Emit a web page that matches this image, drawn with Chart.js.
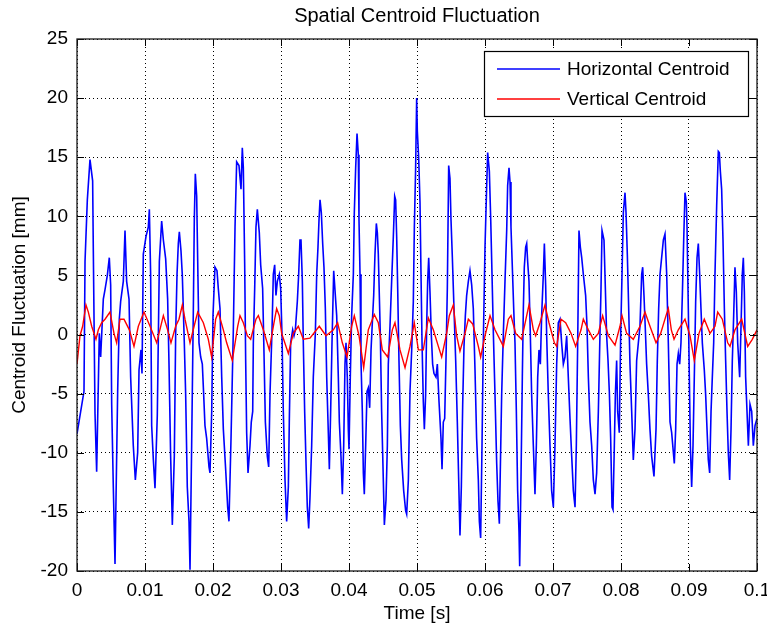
<!DOCTYPE html>
<html>
<head>
<meta charset="utf-8">
<title>Spatial Centroid Fluctuation</title>
<script src="https://cdn.jsdelivr.net/npm/chart.js@4.4.1/dist/chart.umd.min.js"></script>
<style>
  html, body { margin: 0; padding: 0; background: #ffffff; }
  #chart { display: block; }
</style>
</head>
<body>
<canvas id="chart" width="767" height="632"></canvas>
<script>
const titleText = "Spatial Centroid Fluctuation";
const xLabelText = "Time [s]";
const yLabelText = "Centroid Fluctuation [mm]";
const seriesNames = ["Horizontal Centroid", "Vertical Centroid"];

const xTicks = [0, 0.01, 0.02, 0.03, 0.04, 0.05, 0.06, 0.07, 0.08, 0.09, 0.1];
const yTicks = [-20, -15, -10, -5, 0, 5, 10, 15, 20, 25];

// horizontal centroid (time in s, value in mm)
const horizTime = [
  0, 0.00103, 0.00118, 0.00152, 0.00191, 0.0023, 0.0024, 0.00265, 0.00289, 0.00328,
  0.00348, 0.00387, 0.00412, 0.00446, 0.00475, 0.00495, 0.0051, 0.00534, 0.00559, 0.00598,
  0.00622, 0.00642, 0.00681, 0.00706, 0.0073, 0.00765, 0.00789, 0.00828, 0.00858, 0.00892,
  0.00912, 0.00941, 0.00956, 0.00975, 0.01015, 0.01049, 0.01064, 0.01083, 0.01098, 0.01123,
  0.01147, 0.01181, 0.01211, 0.01245, 0.0127, 0.01304, 0.01333, 0.01353, 0.01377, 0.01402,
  0.01431, 0.01451, 0.01471, 0.0149, 0.01505, 0.01529, 0.01549, 0.01578, 0.01598, 0.01622,
  0.01647, 0.01662, 0.01686, 0.01711, 0.01725, 0.0174, 0.0176, 0.01775, 0.01794, 0.01819,
  0.01843, 0.01863, 0.01882, 0.01907, 0.01941, 0.01956, 0.01981, 0.02, 0.02029, 0.02059,
  0.02078, 0.02103, 0.02128, 0.02152, 0.02186, 0.02216, 0.02235, 0.02265, 0.02299, 0.02324,
  0.02348, 0.02382, 0.02412, 0.02431, 0.02446, 0.02466, 0.0248, 0.02495, 0.02515, 0.02544,
  0.02563, 0.02584, 0.02593, 0.02613, 0.02632, 0.02652, 0.02681, 0.02701, 0.0273, 0.0275,
  0.0277, 0.02799, 0.02819, 0.02838, 0.02868, 0.02887, 0.02907, 0.02926, 0.02946, 0.02975,
  0.02995, 0.03015, 0.03034, 0.03059, 0.03083, 0.03108, 0.03122, 0.03142, 0.03172, 0.03191,
  0.03211, 0.0324, 0.0326, 0.03279, 0.03294, 0.03314, 0.03328, 0.03348, 0.03368, 0.03387,
  0.03407, 0.03426, 0.03451, 0.03475, 0.03505, 0.03525, 0.03544, 0.03559, 0.03574, 0.03593,
  0.03613, 0.03632, 0.03652, 0.03672, 0.03696, 0.03711, 0.0373, 0.0375, 0.03775, 0.03819,
  0.03843, 0.03858, 0.03882, 0.03902, 0.03922, 0.03941, 0.03956, 0.03975, 0.0399, 0.04,
  0.04019, 0.04039, 0.04064, 0.04078, 0.04098, 0.04118, 0.04137, 0.04147, 0.04162, 0.04176,
  0.04196, 0.04211, 0.04225, 0.04245, 0.04265, 0.04284, 0.04304, 0.04324, 0.04343, 0.04363,
  0.04382, 0.04402, 0.04417, 0.04431, 0.04446, 0.04461, 0.0448, 0.045, 0.0452, 0.04544,
  0.04564, 0.04578, 0.04603, 0.04627, 0.04652, 0.04672, 0.04686, 0.04701, 0.04716, 0.04735,
  0.04755, 0.04775, 0.04804, 0.04833, 0.04848, 0.04873, 0.04897, 0.04922, 0.04946, 0.04961,
  0.0498, 0.04995, 0.05005, 0.05025, 0.05044, 0.05059, 0.05074, 0.05093, 0.05108, 0.05127,
  0.05142, 0.05157, 0.05172, 0.05191, 0.05211, 0.0523, 0.0525, 0.05279, 0.05299, 0.05324,
  0.05353, 0.05368, 0.05387, 0.05407, 0.05426, 0.05446, 0.05466, 0.05485, 0.055, 0.0552,
  0.05544, 0.05569, 0.05593, 0.05613, 0.05632, 0.05652, 0.05672, 0.05691, 0.05711, 0.0573,
  0.05755, 0.05779, 0.05804, 0.05828, 0.05853, 0.05877, 0.05902, 0.05917, 0.05936, 0.05956,
  0.05975, 0.06, 0.06025, 0.06039, 0.06064, 0.06083, 0.06103, 0.06123, 0.06147, 0.06172,
  0.06191, 0.06211, 0.06245, 0.0627, 0.06294, 0.06319, 0.06333, 0.06353, 0.06368, 0.06382,
  0.06402, 0.06422, 0.06441, 0.06461, 0.0648, 0.065, 0.0651, 0.06529, 0.06549, 0.06564,
  0.06578, 0.06598, 0.06613, 0.06627, 0.06647, 0.06667, 0.06686, 0.06711, 0.06735, 0.06755,
  0.06775, 0.06794, 0.06814, 0.06833, 0.06858, 0.06873, 0.06892, 0.06907, 0.06931, 0.06956,
  0.0698, 0.07005, 0.07029, 0.07054, 0.07078, 0.07103, 0.07127, 0.07152, 0.07176, 0.07201,
  0.07225, 0.0725, 0.07275, 0.07299, 0.07324, 0.07343, 0.07363, 0.07382, 0.07402, 0.07422,
  0.07446, 0.0748, 0.075, 0.0752, 0.07544, 0.07569, 0.07593, 0.07618, 0.07642, 0.07667,
  0.07691, 0.07706, 0.07721, 0.0775, 0.0777, 0.07789, 0.07809, 0.07828, 0.07848, 0.07868,
  0.07882, 0.07902, 0.07917, 0.07936, 0.07951, 0.07975, 0.07995, 0.08015, 0.08034, 0.08059,
  0.08074, 0.08093, 0.08113, 0.08132, 0.08157, 0.08181, 0.08206, 0.0823, 0.08255, 0.08279,
  0.08304, 0.08319, 0.08338, 0.08358, 0.08377, 0.08402, 0.08426, 0.08451, 0.08485, 0.08515,
  0.08534, 0.08554, 0.08574, 0.08623, 0.08647, 0.08672, 0.08696, 0.08721, 0.08745, 0.08784,
  0.08804, 0.08824, 0.08843, 0.08863, 0.08882, 0.08902, 0.08922, 0.08941, 0.08961, 0.08971,
  0.0899, 0.09005, 0.0902, 0.09039, 0.09059, 0.09078, 0.09098, 0.09118, 0.09137, 0.09157,
  0.09176, 0.09196, 0.09225, 0.09245, 0.09265, 0.09284, 0.09304, 0.09324, 0.09343, 0.09363,
  0.09382, 0.09407, 0.09431, 0.09446, 0.09461, 0.0948, 0.095, 0.0952, 0.09539, 0.09559,
  0.09578, 0.09598, 0.09618, 0.09637, 0.09657, 0.09676, 0.09696, 0.09716, 0.09745, 0.09765,
  0.09784, 0.09799, 0.09814, 0.09833, 0.09853, 0.09873, 0.09897, 0.09922, 0.09946, 0.09971,
  0.1
];
const horizValue = [
  -8.4, -4.8, 6.2, 11.4, 14.8, 13, 7.1, -6.7, -11.6, 0.1,
  -1.9, 3, 3.8, 5, 6.5, 4.2, -5.9, -12.9, -19.4, -4.8,
  1.3, 2.8, 4.5, 8.8, 4.5, 3, -3.6, -9.4, -12.3, -10,
  -3, -1.3, -3.3, 6.8, 8.3, 9.1, 10.6, 5.1, -7.7, -10.6,
  -13, -6.8, 6.2, 9.6, 8, 6.4, 3, -2.5, -10.3, -16.1,
  -10.3, 0.1, 5.1, 7.7, 8.7, 7.1, 5, -0.7, -5.1, -12.9,
  -15.8, -19.9, -9.4, 2.2, 9.7, 13.6, 11.7, 6.2, -0.7, -1.9,
  -2.5, -5.1, -7.7, -8.8, -11.2, -11.7, -6.5, 1.6, 5.7, 5.4,
  3.9, 2.2, -3.6, -8, -11.4, -14.6, -15.8, -8.8, 0.4, 9.1,
  14.6, 14.3, 12.3, 15.8, 14.1, 5.9, -2, -8.3, -11.7, -9.4,
  -7.4, -6.5, -0.7, 3.9, 9.1, 10.6, 8.6, 5.9, 3.9, -1.6,
  -7.4, -10.3, -11.2, -5.1, 0.4, 5.1, 5.9, 3.3, 4.5, 5.1,
  3.9, -0.1, -6.5, -12.3, -15.8, -12.9, -7.4, -0.7, 0.4, -0.1,
  0.4, 2.8, 5.1, 8, 8, 4.5, -0.7, -6.5, -10.9, -14.6,
  -16.4, -13.8, -9.4, -3.6, 0.1, 5.1, 7.4, 9.7, 11.4, 10.3,
  7.7, 5.7, 2.2, -3.6, -8.3, -11.4, -6.5, -0.7, 5.4, 1.6,
  -3.6, -7.4, -10.3, -13.5, -9.4, -2.5, -0.7, -3.6, -8, -9.7,
  -3.6, 1.6, 5.1, 10.3, 14.1, 17, 15.2, 9.7, 5.1, -2.2,
  -6.5, -11.7, -13.5, -9.4, -4.8, -4.5, -6.2, -1.3, 1, 3.3,
  6.8, 9.4, 8.6, 6.8, 3.3, -0.1, -6.5, -11.2, -16.1, -14,
  -9.4, -2.5, 0.7, 4.5, 8.3, 11.7, 11.4, 8.3, 3.9, -2.2,
  -7.7, -10.6, -13.2, -14.9, -15.2, -12.3, -4.8, -1.3, 2.8, 9.1,
  14.1, 20, 17.2, 14.9, 11.2, 5.1, -0.7, -5.7, -8, -5.1,
  0.7, 4.5, 6.5, 3.6, -0.1, -2.5, -3.3, -3.6, -2.5, -5.7,
  -8.8, -11.4, -7.4, -7.1, -2.2, 3.9, 14.3, 13.2, 9.7, 6.5,
  2.2, -2.2, -7.4, -12.3, -17, -12.9, -5.9, -1, 1.6, 3.3,
  4.5, 5.4, 4.2, 2.2, -3, -8.8, -12.3, -15.8, -17.2, -9.4,
  -0.7, 7.4, 12.6, 15.4, 13.8, 10, 5.1, 0.1, -5.1, -10.9,
  -14.1, -16, -5.1, 0.1, 4.5, 8.8, 12.6, 14.1, 12.9, 9.1,
  5.7, 2.2, -0.7, -6.5, -13.2, -16.7, -19.6, -12.3, -3.6, 2.2,
  5.7, 7.4, 7.7, 6.2, 4.5, -0.1, -5.1, -9.4, -13.5, -9.4,
  -3.6, -1.3, -2.5, 1.6, 5.1, 7.7, 4.2, -0.1, -5.1, -9.4,
  -13.2, -14.6, -9.4, -2.5, 1, 1.3, -0.7, -2.5, -1.9, -0.1,
  -3.6, -7.1, -10.3, -13.2, -14.6, -9.4, -0.7, 8.8, 7.4, 6.5,
  5.1, 3.3, 0.7, -3.6, -7.4, -9.4, -12.3, -13.5, -11.7, -6.5,
  0.1, 3.9, 8.8, 8, 3.9, -0.1, -2.2, -4.8, -8.8, -14.6,
  -14.8, -9.4, -5.1, -2.2, -6.5, -8.3, -0.1, 5.1, 10.3, 12,
  10.3, 6.8, 2.2, -2.5, -6.5, -10.6, -8, -2.2, -0.7, 0.7,
  5.1, 5.7, 3.3, 0.4, -2.5, -5.1, -8, -10.3, -12, -8,
  -2.2, 2.2, 5.1, 8, 8.5, 5.1, -0.7, -7.4, -8.3, -10.9,
  -8, -2.5, -1.6, -2.5, -0.7, 3.3, 8, 12, 11.2, 9.1,
  2.2, -3.6, -9.4, -12.9, -9.4, -3.6, 2.8, 6.5, 7.7, 5.1,
  2.2, -0.7, -3, -5.1, -8, -10.6, -11.7, -6.5, -3.6, -0.7,
  5.1, 10.9, 15.5, 15.4, 13.8, 12.3, 8, 2.2, -2.2, -6.5,
  -10, -12.3, -8, -2.2, 1.6, 5.7, 3.6, -0.7, -3.6, 0.7,
  5.1, 6.5, 3.6, -3.6, -6.5, -9.4, -5.9, -6.5, -9.4, -7.7,
  -7.1
];

// vertical centroid (time in s, value in mm)
const vertTime = [
  0, 0.00044, 0.00083, 0.00132, 0.00167, 0.00216, 0.00279, 0.00314, 0.00363, 0.00412,
  0.00485, 0.00544, 0.00583, 0.00632, 0.00691, 0.0077, 0.00838, 0.00902, 0.00985, 0.01074,
  0.01172, 0.0127, 0.01333, 0.01382, 0.01451, 0.015, 0.01549, 0.01588, 0.01662, 0.01735,
  0.01775, 0.01858, 0.01931, 0.0198, 0.02039, 0.02078, 0.02152, 0.02201, 0.02284, 0.02363,
  0.02397, 0.02446, 0.02505, 0.02554, 0.02632, 0.02667, 0.0274, 0.02828, 0.02897, 0.02936,
  0.02975, 0.0301, 0.03108, 0.03181, 0.03255, 0.03328, 0.03426, 0.03563, 0.03662, 0.0377,
  0.03833, 0.03902, 0.03971, 0.04039, 0.04078, 0.04147, 0.04216, 0.04284, 0.04372, 0.04431,
  0.0449, 0.04569, 0.04637, 0.04676, 0.0475, 0.04824, 0.04897, 0.0496, 0.0502, 0.05093,
  0.05167, 0.0524, 0.05314, 0.05363, 0.05436, 0.05475, 0.05534, 0.05583, 0.05632, 0.05706,
  0.05755, 0.05819, 0.05902, 0.05936, 0.06, 0.06074, 0.06147, 0.06245, 0.0627, 0.06343,
  0.06382, 0.06451, 0.06539, 0.06613, 0.06647, 0.06711, 0.06745, 0.06809, 0.06882, 0.06941,
  0.0702, 0.07054, 0.07118, 0.07186, 0.07265, 0.07333, 0.07412, 0.07446, 0.0752, 0.07593,
  0.07667, 0.0773, 0.07814, 0.07912, 0.07985, 0.08015, 0.08083, 0.08181, 0.08279, 0.08353,
  0.08426, 0.08515, 0.08583, 0.08662, 0.08696, 0.0874, 0.0878, 0.08843, 0.08941, 0.09015,
  0.09078, 0.09147, 0.09225, 0.09309, 0.09382, 0.09422, 0.0949, 0.09569, 0.09603, 0.09676,
  0.09775, 0.09863, 0.09931, 0.1
];
const vertValue = [
  -2.5, -0.1, 0.7, 2.5, 1.9, 0.7, -0.4, 0.4, 1, 1.3,
  1.9, 0.1, -0.7, 1.3, 1.3, 0.4, -1, 0.7, 1.9, 0.7,
  -0.7, 1.6, 0.4, -0.7, 0.7, 1.3, 2.5, 1.3, -0.7, 1,
  1.9, 1, -0.4, -1.9, 1.3, 1.9, 0.4, -0.7, -2.2, 0.7,
  1.6, 1, -0.1, -0.4, 1.3, 1.6, 0.4, -1.3, 1, 2.2,
  1.6, 0.1, -1.6, 0.1, 0.7, -0.4, -0.3, 0.7, -0.1, 0.4,
  1, -0.7, -1.9, 0.7, 1.6, -0.1, -2.8, 0.4, 1.7, 1,
  -1.3, -1.9, 0.4, 1, -1.3, -2.8, -1, 1, -1.3, -1.3,
  1.4, 0.4, -1, -1.9, 0.1, 1.6, 2.5, -0.1, -1.4, 0.1,
  1.3, 0.9, -1, -1.9, -0.1, 1.6, 0.4, -0.7, -1, 1.3,
  1.6, 0.1, -0.4, 1.6, 2.5, 0.4, -0.1, 1, 2.5, 1,
  -0.7, -1, 1.3, 1, 0.1, -1, 0.4, 1.3, 0.4, -0.4,
  0.1, 1.6, -0.1, -0.9, 0.7, 1.6, 0.1, -0.4, 0.7, 1.9,
  0.7, -0.7, 0.1, 1.6, 2.2, 0.4, -0.4, 0.4, 1.3, -0.1,
  -2.2, 0.1, 1.3, 0.1, 0.7, 1.9, 1.3, -0.7, -1, 0.4,
  1.3, -1, -0.4, 0.4
];

const seriesColors = ["#0000ff", "#ff0000"];
const fontFamily = "Arial, 'Liberation Sans', sans-serif";

function toPoints(times, values) {
  return times.map((t, i) => ({ x: t, y: values[i] }));
}

function formatTime(value) {
  return value === 0 ? "0" : String(Number(value.toFixed(2)));
}

// MATLAB style box, inward ticks, legend and text
const matlabFrame = {
  id: "matlabFrame",
  afterDatasetsDraw(chart) {
    const { ctx, chartArea: area, scales } = chart;
    const xScale = scales.x;
    const yScale = scales.y;
    const tickLen = 7;

    ctx.save();
    ctx.strokeStyle = "#000000";
    ctx.lineWidth = 1;
    ctx.beginPath();
    xTicks.forEach((value) => {
      const px = Math.round(xScale.getPixelForValue(value)) + 0.5;
      ctx.moveTo(px, area.bottom);
      ctx.lineTo(px, area.bottom - tickLen);
      ctx.moveTo(px, area.top);
      ctx.lineTo(px, area.top + tickLen);
    });
    yTicks.forEach((value) => {
      const py = Math.round(yScale.getPixelForValue(value)) + 0.5;
      ctx.moveTo(area.left, py);
      ctx.lineTo(area.left + tickLen, py);
      ctx.moveTo(area.right, py);
      ctx.lineTo(area.right - tickLen, py);
    });
    ctx.stroke();

    ctx.lineWidth = 1.3;
    ctx.strokeStyle = "#1a1a1a";
    ctx.strokeRect(area.left, area.top, area.right - area.left, area.bottom - area.top);

    // legend
    const boxW = 264;
    const boxH = 65;
    const boxX = area.right - 9 - boxW;
    const boxY = area.top + 12;
    ctx.fillStyle = "#ffffff";
    ctx.fillRect(boxX, boxY, boxW, boxH);
    ctx.lineWidth = 1.2;
    ctx.strokeStyle = "#000000";
    ctx.strokeRect(boxX + 0.5, boxY + 0.5, boxW, boxH);

    ctx.font = "19px " + fontFamily;
    ctx.textAlign = "left";
    ctx.textBaseline = "middle";
    seriesNames.forEach((name, i) => {
      const rowY = boxY + 18 + i * 30;
      ctx.strokeStyle = seriesColors[i];
      ctx.lineWidth = 1.4;
      ctx.beginPath();
      ctx.moveTo(boxX + 13, rowY);
      ctx.lineTo(boxX + 76, rowY);
      ctx.stroke();
      ctx.fillStyle = "#000000";
      ctx.fillText(name, boxX + 83, rowY + 1);
    });
    ctx.restore();
  },
  afterDraw(chart) {
    const { ctx, chartArea: area } = chart;
    const midX = (area.left + area.right) / 2;
    const midY = (area.top + area.bottom) / 2;

    ctx.save();
    ctx.fillStyle = "#000000";
    ctx.textAlign = "center";
    ctx.textBaseline = "middle";

    ctx.font = "20px " + fontFamily;
    ctx.fillText(titleText, midX, 16);

    ctx.font = "19px " + fontFamily;
    ctx.fillText(xLabelText, midX, area.bottom + 43);

    ctx.translate(20, midY);
    ctx.rotate(-Math.PI / 2);
    ctx.fillText(yLabelText, 0, 0);
    ctx.restore();
  }
};

const chart = new Chart(document.getElementById("chart"), {
  type: "line",
  data: {
    datasets: [
      {
        label: seriesNames[0],
        data: toPoints(horizTime, horizValue),
        borderColor: seriesColors[0],
        borderWidth: 1.6,
        pointRadius: 0,
        tension: 0,
        order: 2
      },
      {
        label: seriesNames[1],
        data: toPoints(vertTime, vertValue),
        borderColor: seriesColors[1],
        borderWidth: 1.4,
        pointRadius: 0,
        tension: 0,
        order: 1
      }
    ]
  },
  options: {
    responsive: false,
    animation: false,
    devicePixelRatio: 1,
    layout: {
      padding: { top: 39, right: 10, bottom: 0, left: 0 }
    },
    plugins: {
      legend: { display: false },
      title: { display: false },
      tooltip: { enabled: false }
    },
    scales: {
      x: {
        type: "linear",
        min: 0,
        max: 0.1,
        afterBuildTicks: (scale) => {
          scale.ticks = xTicks.map((value) => ({ value }));
        },
        afterFit: (scale) => {
          scale.height = 61;
          scale.paddingLeft = 0;
          scale.paddingRight = 0;
        },
        ticks: {
          color: "#000000",
          padding: 8,
          maxRotation: 0,
          autoSkip: false,
          font: { family: fontFamily, size: 19 },
          callback: (value) => formatTime(value)
        },
        grid: {
          color: "#000000",
          lineWidth: 1,
          drawTicks: false
        },
        border: { display: false, dash: [1, 3] }
      },
      y: {
        type: "linear",
        min: -20,
        max: 25,
        afterBuildTicks: (scale) => {
          scale.ticks = yTicks.map((value) => ({ value }));
        },
        afterFit: (scale) => {
          scale.width = 77;
        },
        ticks: {
          color: "#000000",
          padding: 9,
          autoSkip: false,
          font: { family: fontFamily, size: 19 }
        },
        grid: {
          color: "#000000",
          lineWidth: 1,
          drawTicks: false
        },
        border: { display: false, dash: [1, 3] }
      }
    }
  },
  plugins: [matlabFrame]
});
</script>
</body>
</html>
